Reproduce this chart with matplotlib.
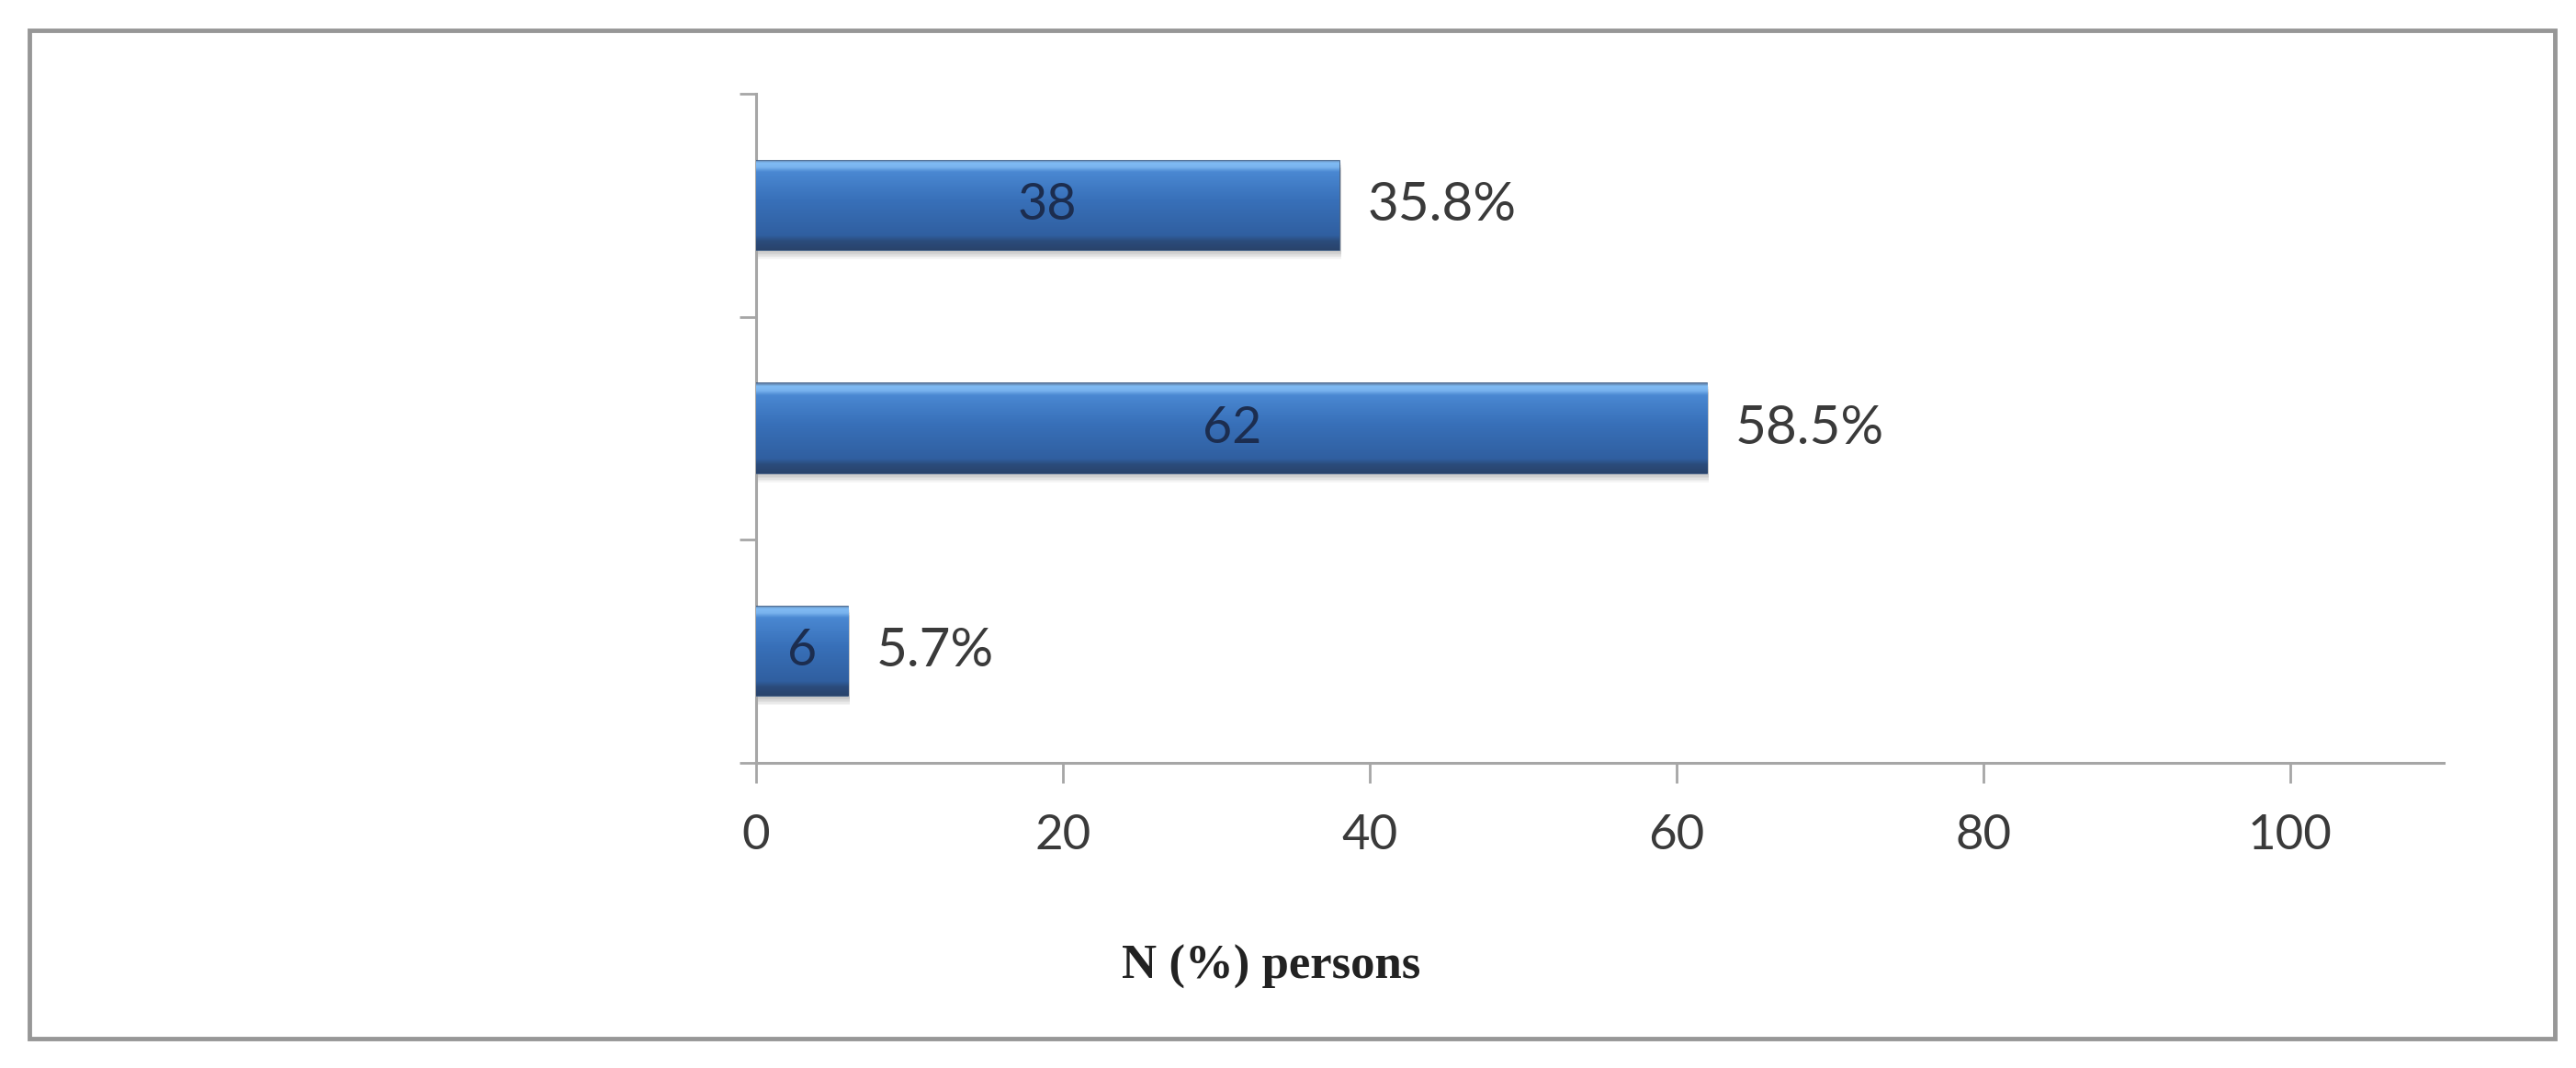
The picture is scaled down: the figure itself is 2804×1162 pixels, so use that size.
import numpy as np
import matplotlib
matplotlib.use('Agg')
import matplotlib.pyplot as plt
from matplotlib.colors import LinearSegmentedColormap
from matplotlib.patches import Rectangle
from matplotlib.transforms import ScaledTranslation

# values from top bar to bottom bar
counts = [38, 62, 6]
percents = ['35.8%', '58.5%', '5.7%']
xticks = [0, 20, 40, 60, 80, 100]
xlabel = 'N (%) persons'

plt.rcParams['font.family'] = ['Lato', 'DejaVu Sans']

fig = plt.figure(figsize=(28.04, 11.62), dpi=100)
ax = fig.add_axes([0.2935, 0.2857, 0.6551, 0.6265])

ypos = np.arange(len(counts))
bars = ax.barh(ypos, counts, height=0.4, color='#3a72be',
               edgecolor='#34557f', linewidth=1.2, zorder=3)

# 3d-ish gradient for the bars
grad = LinearSegmentedColormap.from_list('bar', [
    (0.00, '#5f7fa8'), (0.03, '#80bbf4'), (0.08, '#79b3ee'),
    (0.13, '#4a88d2'), (0.45, '#3870b9'), (0.84, '#305fa0'),
    (0.90, '#2b4c7c'), (1.00, '#29436b')])
g = np.linspace(0, 1, 256).reshape(-1, 1)

for b in bars:
    x0, y0, w, h = b.get_x(), b.get_y(), b.get_width(), b.get_height()
    im = ax.imshow(g, cmap=grad, aspect='auto', origin='upper',
                   extent=(x0, x0 + w, y0 + h, y0), zorder=3.1,
                   interpolation='bilinear')
    im.set_clip_path(b)
    # soft shadow under the bar
    for k in range(6):
        off = ScaledTranslation(0.02, -0.025 - 0.015 * k, fig.dpi_scale_trans)
        sh = Rectangle((x0, y0), w, h, transform=ax.transData + off,
                       facecolor='#000000', alpha=0.04, edgecolor='none',
                       zorder=2)
        ax.add_patch(sh)

for i, (c, p) in enumerate(zip(counts, percents)):
    ax.text(c / 2, i, str(c), ha='center', va='center', fontsize=40,
            color='#1c2d4f', zorder=5)
    ax.annotate(p, (c, i), xytext=(22, 0), textcoords='offset points',
                ha='left', va='center', fontsize=42, color='#3a3a3a')

ax.set_xlim(0, 110)
ax.set_ylim(2.5, -0.5)
ax.set_xticks(xticks)
ax.set_xticklabels([str(t) for t in xticks])
ax.set_yticks([-0.5, 0.5, 1.5, 2.5])
ax.set_yticklabels([])

for s in ['top', 'right']:
    ax.spines[s].set_visible(False)
for s in ['left', 'bottom']:
    ax.spines[s].set_color('#a6a6a6')
    ax.spines[s].set_linewidth(2.2)

ax.tick_params(axis='x', direction='out', length=16, width=2, color='#a6a6a6',
               labelsize=38, labelcolor='#3a3a3a', pad=24)
ax.tick_params(axis='y', direction='out', length=13, width=2, color='#a6a6a6')

fig.text(0.4936, 0.0947, xlabel, ha='center', va='center', fontsize=38,
         fontweight='bold', family=['Liberation Serif', 'DejaVu Serif'],
         color='#222222')

# outer frame
frame = Rectangle((32 / 2804, 1 - 1130 / 1162), (2781 - 32) / 2804,
                  (1130 - 33) / 1162, transform=fig.transFigure,
                  fill=False, edgecolor='#979797', linewidth=3.5)
fig.patches.append(frame)

fig.savefig('out.png', dpi=100)
